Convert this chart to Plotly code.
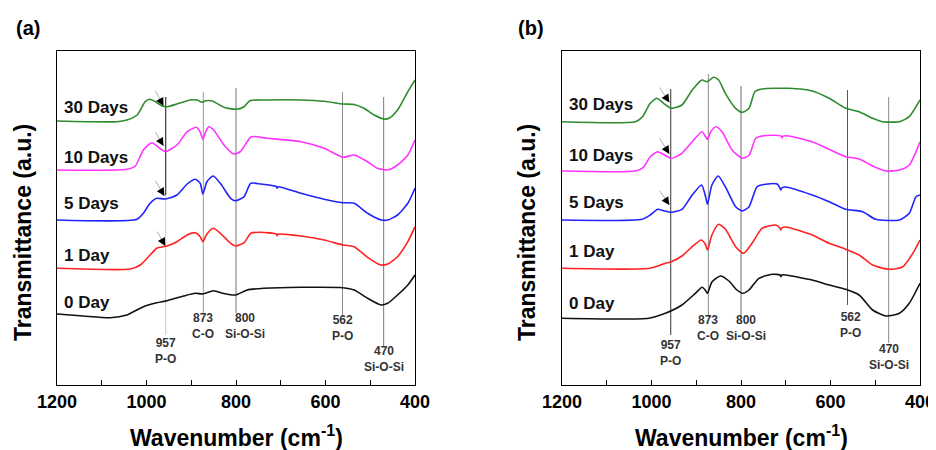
import plotly.graph_objects as go

# ---------------- DATA ----------------
# Panel (a) -- wavenumber (cm-1) and transmittance (a.u., offset stacks)
WN_A_30 = [1200, 1066, 1044, 1021, 1003, 993, 980, 965, 954, 932, 902, 887, 876, 868, 853, 827, 801, 782, 769, 730, 655, 603, 561, 536, 514, 491, 470, 457, 439, 416, 400]
T_A_30 = [264, 263.3, 265, 270, 283.3, 285.7, 283.3, 279, 278.3, 281, 285, 285, 282.7, 284.3, 284, 277.7, 275.7, 278.3, 284.3, 285, 285, 283.7, 281, 280.5, 276.7, 270, 266, 267, 275, 293.3, 305]

WN_A_10 = [1200, 1044, 1025, 1007, 988, 973, 958, 932, 909, 889, 880, 874, 868, 861, 850, 827, 805, 790, 775, 766, 730, 655, 603, 561, 536, 506, 484, 461, 439, 416, 400]
T_A_10 = [215, 215.7, 219, 235, 242.3, 237.7, 233.3, 240, 253.3, 257.7, 253, 245.7, 253, 258.3, 255, 240, 231, 233.5, 243.3, 248.3, 246.7, 243.3, 236.7, 227.7, 230, 223.3, 216.7, 215, 220, 230, 245]

WN_A_5 = [1200, 1021, 1007, 992, 977, 958, 932, 909, 891, 880, 874, 865, 851, 835, 812, 801, 782, 767, 745, 710, 708, 706, 655, 603, 561, 536, 506, 476, 461, 439, 416, 400]
T_A_5 = [165, 165.7, 171.7, 181.7, 186.7, 186, 190, 201, 205.7, 201.7, 191, 203.3, 209, 201.7, 186.7, 184.3, 188.3, 201.7, 201, 198.5, 196.8, 198.3, 191.7, 185.7, 182.3, 181.7, 171.7, 165, 165, 170, 181.7, 196.7]

WN_A_1 = [1200, 1036, 1014, 992, 977, 954, 932, 909, 891, 880, 874, 866, 851, 835, 812, 801, 782, 767, 745, 710, 708, 706, 655, 603, 561, 536, 506, 476, 461, 439, 416, 400]
T_A_1 = [116.7, 116, 120, 130, 136.7, 139, 143.3, 150, 152.3, 148.3, 143.3, 150.3, 156.7, 151.7, 141.7, 139, 142.3, 151.7, 152.7, 151, 149.3, 150.8, 149, 145, 140, 138.3, 127.7, 120, 121, 128.3, 143.3, 158.3]

WN_A_0 = [1200, 1141, 1081, 1044, 1007, 977, 954, 917, 891, 874, 850, 827, 801, 775, 738, 655, 561, 536, 506, 476, 461, 439, 416, 400]
T_A_0 = [71, 69, 67.3, 70, 78.3, 82.3, 84.3, 89, 91.7, 91, 94.3, 91.5, 90, 95, 96.7, 97.7, 97.3, 95, 86.7, 80, 81.7, 90, 100, 110]

# Panel (b)
WN_B_30 = [1200, 1036, 1020, 1003, 988, 973, 956, 932, 909, 887, 876, 861, 850, 835, 812, 797, 782, 769, 753, 693, 641, 603, 566, 536, 506, 484, 446, 424, 400]
T_B_30 = [263.3, 263.3, 268.3, 281.7, 286.7, 281.7, 276.7, 280, 295, 305, 303.3, 307.7, 305, 291.7, 276.7, 272.7, 276.7, 293.3, 296, 296.7, 294, 286.7, 276.7, 273.3, 266.7, 263.3, 263.3, 268.3, 285]

WN_B_10 = [1200, 1036, 1018, 1003, 986, 973, 956, 932, 909, 887, 875, 868, 856, 842, 820, 797, 782, 767, 753, 723, 710, 708, 706, 693, 641, 603, 566, 536, 506, 476, 446, 424, 400]
T_B_10 = [214, 214, 217.7, 228.3, 233.3, 230.5, 226.7, 231.7, 243.3, 253.3, 245.7, 253, 258.3, 253, 235, 226.7, 229.7, 246.7, 249, 249.7, 248.8, 247, 248.8, 249, 243.3, 235.7, 228.3, 226, 219, 214, 215, 220, 243.3]

WN_B_5 = [1200, 1021, 1003, 986, 973, 956, 932, 909, 888, 879, 875, 865, 851, 835, 812, 797, 782, 764, 745, 719, 713, 711, 709, 700, 641, 603, 566, 528, 499, 446, 424, 409, 400]
T_B_5 = [165, 165.7, 170, 175.7, 174.3, 172.7, 175.7, 190, 200, 188, 180.7, 200, 209, 198.3, 178.3, 174, 178.3, 198.3, 200.7, 201, 197, 195, 197, 198, 190, 183.3, 175.7, 173.3, 165.7, 165, 171.7, 188.3, 190]

WN_B_1 = [1200, 1003, 969, 956, 932, 909, 889, 880, 875, 865, 850, 835, 812, 794, 775, 753, 723, 713, 711, 709, 700, 641, 603, 566, 536, 506, 469, 439, 416, 400]
T_B_1 = [116.7, 116.7, 121.7, 123.3, 129, 138.3, 145, 141, 135, 150, 160.7, 156, 138.3, 131.7, 142, 156.7, 160, 157, 155, 157, 158, 150, 141.7, 135.7, 130, 120, 115.7, 118, 131.7, 145]

WN_B_0 = [1200, 1006, 969, 932, 902, 887, 880, 875, 865, 846, 827, 809, 796, 782, 760, 730, 713, 711, 709, 700, 641, 603, 566, 536, 506, 476, 446, 424, 400]
T_B_0 = [66.7, 66.7, 71.7, 80, 91.7, 97.7, 95, 91.7, 103, 109, 104, 95, 91.7, 95, 106.7, 110.7, 110, 108.3, 110, 110, 105, 100, 95.7, 90, 75, 69, 71.7, 81.7, 101.7]

SERIES_NAMES = ["30 Days", "10 Days", "5 Days", "1 Day", "0 Day"]
SERIES_COLORS = ["#2e8b2e", "#ff33ff", "#2222ff", "#ff2222", "#111111"]

PEAK_WN = [957, 873, 800, 562, 470]
PEAK_NAMES = ["P-O", "C-O", "Si-O-Si", "P-O", "Si-O-Si"]

X_TICKS = [1200, 1000, 800, 600, 400]
Y_RANGE = [0, 334]

# ---------------- LAYOUT GEOMETRY ----------------
# page body has an 8px margin, so the figure is drawn 8px smaller and
# every window-pixel position is converted by subtracting that offset
OFF = 8
W, H = 936 - OFF, 450 - OFF
FONT = "Liberation Sans, Arial, sans-serif"

def px_x(p):
    return (p - OFF) / W

def px_y(p):
    return 1 - (p - OFF) / H

panels = {
    "a": dict(xa="x", ya="y", dom=[57, 415],
              wn=[WN_A_30, WN_A_10, WN_A_5, WN_A_1, WN_A_0],
              t=[T_A_30, T_A_10, T_A_5, T_A_1, T_A_0],
              label_y=[278, 228, 182, 130, 83],
              arrows=[((982, 295.7), (962, 279)), ((982, 254.3), (962, 239)),
                      ((982, 205.7), (960, 189)), ((978, 155), (958, 139))],
              vlines=[(957, 288, 190, "#111111"), (957, 190, 50, "#c8c8c8"),
                      (873, 293, 71, "#9a9a9a"), (800, 297, 72, "#777777"),
                      (562, 293, 70, "#8a8a8a"), (470, 288, 38, "#777777")],
              peak_lbl=[(0, 34.5), (0, 59.5), (9, 59.5), (0, 57.5), (0, 26.5)],
              tag="(a)", tag_x=14, ytitle_x=23),
    "b": dict(xa="x2", ya="y2", dom=[562, 920],
              wn=[WN_B_30, WN_B_10, WN_B_5, WN_B_1, WN_B_0],
              t=[T_B_30, T_B_10, T_B_5, T_B_1, T_B_0],
              label_y=[281, 230, 183, 134, 82],
              arrows=[((984, 299), (960, 282.5)), ((984, 248.3), (960, 231)),
                      ((984, 195.7), (960, 180))],
              vlines=[(957, 296, 50, "#333333"), (873, 311, 68, "#8a8a8a"),
                      (800, 299, 68, "#6a6a6a"), (562, 295, 80, "#555555"),
                      (470, 288, 42, "#8a8a8a")],
              peak_lbl=[(0, 32.5), (0, 57.5), (5, 57.5), (3, 60.5), (0, 28.5)],
              tag="(b)", tag_x=516, ytitle_x=527),
}

PLOT_TOP, PLOT_BOTTOM = 51, 385

fig = go.Figure()
annotations = []
shapes = []

for key, p in panels.items():
    for name, color, xs, ys in zip(SERIES_NAMES, SERIES_COLORS, p["wn"], p["t"]):
        fig.add_trace(go.Scatter(x=xs, y=ys, mode="lines", name=name,
                                 line=dict(color=color, width=1.6, shape="spline", smoothing=0.6),
                                 xaxis=p["xa"], yaxis=p["ya"], showlegend=False,
                                 hoverinfo="skip"))
    for wn, y0, y1, col in p["vlines"]:
        shapes.append(dict(type="line", xref=p["xa"], yref=p["ya"], x0=wn, x1=wn,
                           y0=y0, y1=y1, line=dict(color=col, width=1), layer="below"))
    for wn, nm, (xs, yv) in zip(PEAK_WN, PEAK_NAMES, p["peak_lbl"]):
        annotations.append(dict(xref=p["xa"], yref=p["ya"], x=wn, y=yv, xshift=xs,
                                text=f"{wn}<br>{nm}", showarrow=False,
                                font=dict(family=FONT, size=12, color="#333333", weight="bold"),
                                xanchor="center", yanchor="middle", align="center"))
    for nm, yv in zip(SERIES_NAMES, p["label_y"]):
        annotations.append(dict(xref=p["xa"], yref=p["ya"], x=1189, y=yv, text=nm,
                                showarrow=False, xanchor="left", yanchor="middle",
                                font=dict(family=FONT, size=17, color="#111111", weight="bold")))
    for (tx, ty), (hx, hy) in p["arrows"]:
        annotations.append(dict(xref=p["xa"], yref=p["ya"], x=hx, y=hy, ax=tx, ay=ty,
                                axref=p["xa"], ayref=p["ya"], text="", showarrow=True,
                                arrowhead=0, arrowwidth=0.8, arrowcolor="#9a9a9a"))
        mx, my = hx + (tx - hx) * 0.4, hy + (ty - hy) * 0.4
        annotations.append(dict(xref=p["xa"], yref=p["ya"], x=hx, y=hy, ax=mx, ay=my,
                                axref=p["xa"], ayref=p["ya"], text="", showarrow=True,
                                arrowhead=2, arrowsize=1.6, arrowwidth=1, arrowcolor="#000000"))
    annotations.append(dict(xref="paper", yref="paper", x=px_x(p["tag_x"]), y=px_y(28),
                            text=p["tag"], showarrow=False, xanchor="left", yanchor="middle",
                            font=dict(family=FONT, size=20, color="#000000", weight="bold")))
    cx = (p["dom"][0] + p["dom"][1]) / 2
    annotations.append(dict(xref="paper", yref="paper", x=px_x(cx), y=px_y(436),
                            text="Wavenumber (cm<sup>-1</sup>)", showarrow=False,
                            xanchor="center", yanchor="middle",
                            font=dict(family=FONT, size=23, color="#000000", weight="bold")))
    annotations.append(dict(xref="paper", yref="paper", x=px_x(p["ytitle_x"]), y=px_y(233),
                            text="Transmittance (a.u.)", showarrow=False, textangle=-90,
                            xanchor="center", yanchor="middle",
                            font=dict(family=FONT, size=23, color="#000000", weight="bold")))

axis_common = dict(
    range=[1200, 400], tickvals=X_TICKS, ticks="inside", ticklen=5, tickwidth=1,
    tickcolor="black", showline=True, linecolor="black", linewidth=1.3, mirror=True,
    showgrid=False, zeroline=False, automargin=False,
    tickfont=dict(family=FONT, size=18, color="#000000", weight="bold"),
    minor=dict(tickvals=[1100, 900, 700, 500], ticks="inside", ticklen=5, tickcolor="black"),
)
yaxis_common = dict(range=Y_RANGE, showticklabels=False, ticks="", showline=True,
                    linecolor="black", linewidth=1.3, mirror=True, showgrid=False,
                    zeroline=False, automargin=False)

ydom = [px_y(PLOT_BOTTOM), px_y(PLOT_TOP)]
fig.update_layout(
    width=W, height=H, margin=dict(l=0, r=0, t=0, b=0, pad=0, autoexpand=False),
    paper_bgcolor="white", plot_bgcolor="white",
    xaxis=dict(domain=[px_x(57), px_x(415)], anchor="y", **axis_common),
    yaxis=dict(domain=ydom, anchor="x", **yaxis_common),
    xaxis2=dict(domain=[px_x(562), px_x(920)], anchor="y2", **axis_common),
    yaxis2=dict(domain=ydom, anchor="x2", **yaxis_common),
    annotations=annotations, shapes=shapes,
)

fig.write_html("out.html", config={"responsive": False})
